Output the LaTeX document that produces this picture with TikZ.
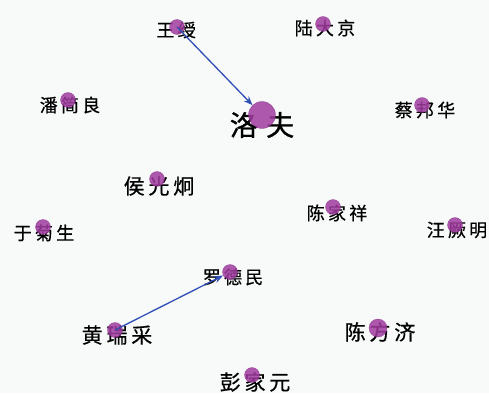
\documentclass[tikz,border=0pt]{standalone}
\usepackage{fontspec}
\newfontfamily\cjk{Noto Sans CJK SC}[LetterSpace=18,FakeBold=0.6]
\newfontfamily\cjkbig{Noto Sans CJK SC}[LetterSpace=30,FakeBold=1]
\usetikzlibrary{arrows.meta}
\definecolor{bgc}{HTML}{F8F9F9}
\definecolor{dotc}{HTML}{A03CA0}
\definecolor{dotedge}{HTML}{7A1E7A}
\definecolor{arrc}{HTML}{2F4FB5}
\tikzset{
  nm/.style={inner sep=0pt, text=black, font=\cjk\fontsize{18}{18}\selectfont},
  bignm/.style={nm, font=\cjk\fontsize{21}{21}\selectfont},
  hugenm/.style={inner sep=0pt, text=black, font=\cjkbig\fontsize{28}{28}\selectfont},
  dot/.style={circle, fill=dotc, fill opacity=0.85, draw=dotedge, draw opacity=0.6, line width=0.4pt, inner sep=0pt, minimum size=#1},
  dot/.default=15pt,
  link/.style={draw=arrc, line width=1.3pt, -{Stealth[length=9pt,width=7pt]}}
}
\begin{document}
\begin{tikzpicture}[x=1pt,y=-1pt]
\useasboundingbox (0,0) rectangle (489,393);
\fill[bgc] (0,0) rectangle (489,393);
% texts
\node[nm] (t1) at (176,30) {王绶};
\node[nm] (t2) at (325,28) {陆大京};
\node[nm] (t3) at (70,105) {潘简良};
\node[hugenm] (t4) at (262,125) {洛夫};
\node[nm] (t5) at (425,110) {蔡邦华};
\node[bignm] (t6) at (159,186) {侯光炯};
\node[nm] (t7) at (337,213) {陈家祥};
\node[nm] (t8) at (457,230) {汪厥明};
\node[nm] (t9) at (44,233) {于菊生};
\node[nm] (t10) at (233,277) {罗德民};
\node[bignm] (t11) at (117,335) {黄瑞采};
\node[bignm] (t12) at (380,332) {陈方济};
\node[bignm] (t13) at (255,382) {彭家元};
% dots
\node[dot] (c1) at (177,27) {};
\node[dot] (c2) at (323,24) {};
\node[dot] (c3) at (68,100) {};
\node[dot=27pt] (c4) at (262,115) {};
\node[dot] (c5) at (422,105) {};
\node[dot] (c6) at (157,179) {};
\node[dot] (c7) at (333,207) {};
\node[dot] (c8) at (455,225) {};
\node[dot] (c9) at (43,227) {};
\node[dot] (c10) at (230,272) {};
\node[dot] (c11) at (115,330) {};
\node[dot=18pt] (c12) at (378,328) {};
\node[dot] (c13) at (252,375) {};
% links
\draw[link] (c1.center) -- (c4);
\draw[link] (c11.center) -- (c10);
\end{tikzpicture}
\end{document}
